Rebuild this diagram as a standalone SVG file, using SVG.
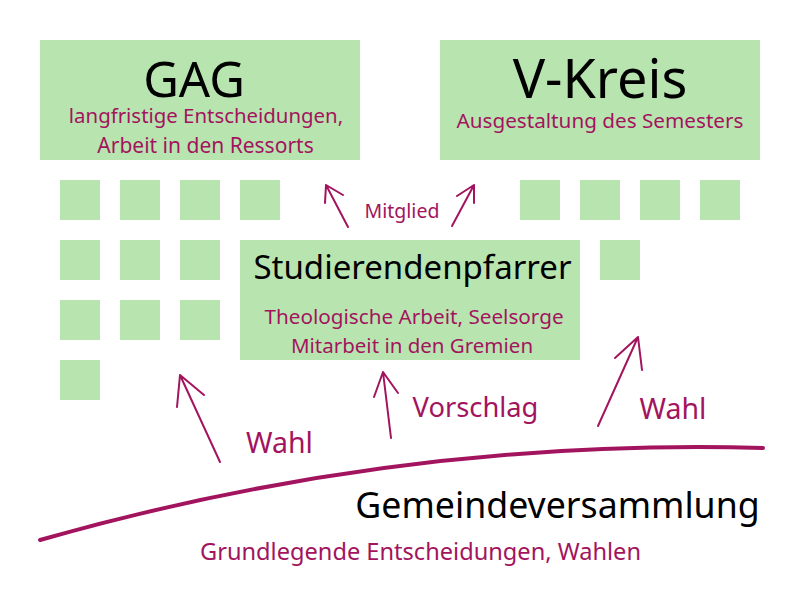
<svg xmlns="http://www.w3.org/2000/svg" width="800" height="600" viewBox="0 0 800 600">
<defs>
<style>
.box{fill:#b8e4b0;}
.t{font-family:"Noto Sans","Open Sans",sans-serif;text-anchor:middle;}
.title{fill:#000;}
.sub{fill:#a3145e;}
.arr{fill:none;stroke:#a3145e;stroke-width:2;stroke-linecap:round;stroke-linejoin:round;}
</style>
</defs>
<rect width="800" height="600" fill="#fff"/>
<g id="squares">
<rect class="box" x="60" y="180" width="40" height="40"/>
<rect class="box" x="120" y="180" width="40" height="40"/>
<rect class="box" x="180" y="180" width="40" height="40"/>
<rect class="box" x="240" y="180" width="40" height="40"/>
<rect class="box" x="520" y="180" width="40" height="40"/>
<rect class="box" x="580" y="180" width="40" height="40"/>
<rect class="box" x="640" y="180" width="40" height="40"/>
<rect class="box" x="700" y="180" width="40" height="40"/>
<rect class="box" x="60" y="240" width="40" height="40"/>
<rect class="box" x="120" y="240" width="40" height="40"/>
<rect class="box" x="180" y="240" width="40" height="40"/>
<rect class="box" x="600" y="240" width="40" height="40"/>
<rect class="box" x="60" y="300" width="40" height="40"/>
<rect class="box" x="120" y="300" width="40" height="40"/>
<rect class="box" x="180" y="300" width="40" height="40"/>
<rect class="box" x="60" y="360" width="40" height="40"/>
</g>
<g id="gag">
<rect class="box" x="40" y="40" width="320" height="120"/>
<text class="t title" x="194" y="97" font-size="49">GAG</text>
<text class="t sub" x="206" y="123" font-size="20.4">langfristige Entscheidungen,</text>
<text class="t sub" x="205.5" y="153" font-size="21">Arbeit in den Ressorts</text>
</g>
<g id="vkreis">
<rect class="box" x="440" y="40" width="320" height="120"/>
<text class="t title" x="600" y="98" font-size="54">V-Kreis</text>
<text class="t sub" x="600" y="128" font-size="20.7">Ausgestaltung des Semesters</text>
</g>
<g id="pfarrer">
<rect class="box" x="240" y="240" width="340" height="120"/>
<text class="t title" x="412.5" y="279" font-size="33">Studierendenpfarrer</text>
<text class="t sub" x="414" y="324" font-size="20.7">Theologische Arbeit, Seelsorge</text>
<text class="t sub" x="412" y="353" font-size="20.5">Mitarbeit in den Gremien</text>
</g>
<g id="gemeinde">
<path d="M40,540 Q398,438 763,448" fill="none" stroke="#a3145e" stroke-width="4" stroke-linecap="round"/>
<text class="t title" x="557.5" y="518" font-size="35.7">Gemeindeversammlung</text>
<text class="t sub" x="420.5" y="560" font-size="23.6">Grundlegende Entscheidungen, Wahlen</text>
</g>
<g id="connectors">
<path class="arr" d="M220,462 L180,375 M177,407 L180,375 L204,395"/>
<path class="arr" d="M391,438 L383,372 M374,397 L383,372 L398,393"/>
<path class="arr" d="M598,426 L638,337 M615,358 L638,337 L642,370"/>
<path class="arr" d="M348,227 L326,185 M325,203 L326,185 L343,195"/>
<path class="arr" d="M452,226 L474,185 M457,196 L474,185 L474,203"/>
</g>
<g id="labels">
<text class="t sub" x="402" y="218" font-size="19.5">Mitglied</text>
<text class="t sub" x="279.5" y="453" font-size="28.5">Wahl</text>
<text class="t sub" x="475.5" y="417" font-size="27.3">Vorschlag</text>
<text class="t sub" x="673" y="419" font-size="28.5">Wahl</text>
</g>
</svg>
